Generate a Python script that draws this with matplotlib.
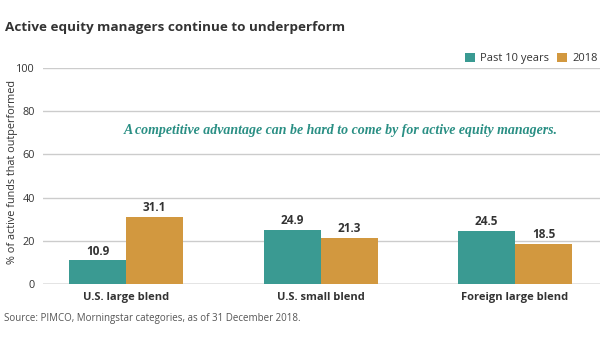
import matplotlib.pyplot as plt
import numpy as np

# Share of active equity funds that beat their benchmark
categorias = ['U.S. large blend', 'U.S. small blend', 'Foreign large blend']
past_10 = [10.9, 24.9, 24.5]
ano_2018 = [31.1, 21.3, 18.5]
yticks = [0, 20, 40, 60, 80, 100]

teal = '#3a9a92'
gold = '#d2983f'
texto = '#333333'

plt.rcParams['font.family'] = ['Open Sans', 'DejaVu Sans']

fig = plt.figure(figsize=(6.05, 3.41), dpi=100)
ax = fig.add_axes([43 / 605, 1 - 284 / 341, 557 / 605, 216 / 341])

x = np.arange(len(categorias))
w = 0.293
b1 = ax.bar(x - w / 2, past_10, w, color=teal, label='Past 10 years', zorder=3)
b2 = ax.bar(x + w / 2, ano_2018, w, color=gold, label='2018', zorder=3)

for barras, vals in [(b1, past_10), (b2, ano_2018)]:
    for r, v in zip(barras, vals):
        ax.annotate(f'{v:.1f}', (r.get_x() + r.get_width() / 2, v), xytext=(0, 2),
                    textcoords='offset points', ha='center', va='bottom',
                    fontsize=8.5, fontweight='bold', color=texto)

ax.set_xlim(-0.427, 2.437)
ax.set_ylim(0, 100)
ax.set_yticks(yticks)
ax.set_yticklabels([str(t) for t in yticks], fontsize=7.8, color=texto)
ax.yaxis.grid(True, color='#cccccc', linewidth=1, zorder=0)
ax.tick_params(axis='y', length=0, pad=6)
ax.tick_params(axis='x', length=0, pad=6)
ax.set_xticks(x)
ax.set_xticklabels(categorias, fontsize=8, fontweight='bold', color=texto)
for s in ax.spines.values():
    s.set_visible(False)
ax.axhline(0, color='#a0a0a0', linewidth=1, zorder=2)

ax.set_ylabel('% of active funds that outperformed', fontsize=7.8, color=texto)
ax.yaxis.set_label_coords(-25 / 557, 0.52)

ax.text(0.534, 0.71, 'A competitive advantage can be hard to come by for active equity managers.',
        transform=ax.transAxes, ha='center', va='center', fontsize=10, color='#2a8f84',
        family='Liberation Serif', style='italic', fontweight='bold')

leg = ax.legend(loc='lower right', ncol=2, frameon=False,
                fontsize=8, handlelength=0.9, handleheight=0.9, handletextpad=0.45,
                columnspacing=0.8, borderpad=0, borderaxespad=0)
leg.set_bbox_to_anchor((0.9964, 1.018), transform=ax.transAxes)
for t in leg.get_texts():
    t.set_color(texto)

fig.text(5 / 605, 1 - 28 / 341, 'Active equity managers continue to underperform', fontsize=9.7,
         fontweight='bold', color='#333333', va='center', ha='left')
fig.text(4 / 605, 1 - 319 / 341, 'Source: PIMCO, Morningstar categories, as of 31 December 2018.',
         fontsize=7, color='#555555', va='center', ha='left')

fig.savefig('out.png', dpi=100)
